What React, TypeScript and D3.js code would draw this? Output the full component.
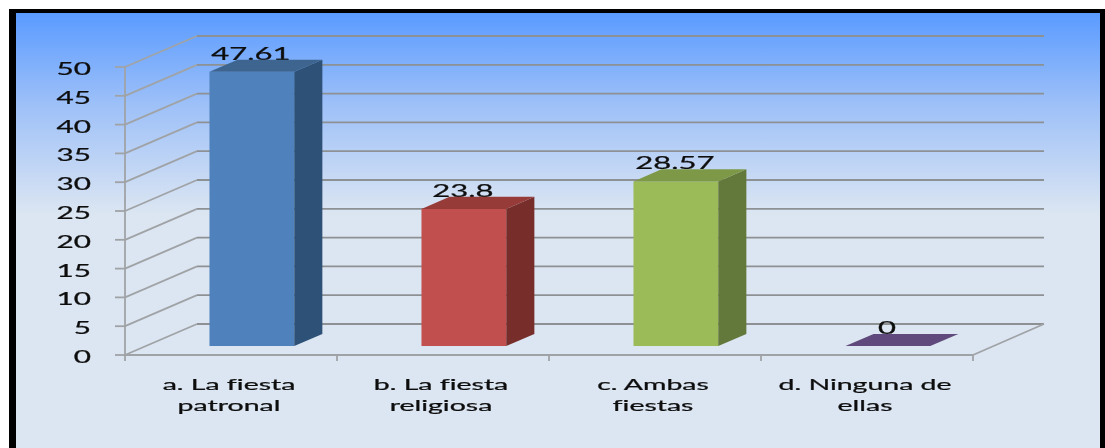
import React from "react";
import * as d3 from "d3";

const categories = ["a. La fiesta|patronal", "b. La fiesta|religiosa", "c. Ambas|fiestas", "d. Ninguna de|ellas"];
const values = [47.61, 23.8, 28.57, 0];
const valueLabels = ["47.61", "23.8", "28.57", "0"];
const yTicks = [0, 5, 10, 15, 20, 25, 30, 35, 40, 45, 50];
const frontColors = ["#4f81bd", "#c0504d", "#9bbb59", "#604a7b"];
const topColors = ["#3d6590", "#963a38", "#7d9846", "#604a7b"];
const sideColors = ["#2f5177", "#772e2c", "#64783a", "#4a3a60"];

const W = 1105, H = 448;
const FONT = "Lato, Carlito, sans-serif";
const x0 = 125, x1 = 973, y0 = 355, y50 = 67;
const wallDx = 72, wallDy = -31;
const baseFrac = 0.29, depthFrac = 0.39;
const GRID = "#8e9194";
const WALL = "#a0a3a6";

const y = d3.scaleLinear().domain([0, 50]).range([y0, y50]);
const band = d3.scaleBand<string>().domain(categories).range([x0, x1]).paddingInner(0.6).paddingOuter(0.3);
const line = d3.line();

function Stretched({ x, y: ty, sx, size, anchor, children }: any) {
  return (
    <text
      transform={`translate(${x},${ty}) scale(${sx},1)`}
      fontFamily={FONT}
      fontSize={size}
      fill="#111"
      stroke="#111"
      strokeWidth={0.25}
      textAnchor={anchor}
      style={{ fontVariantLigatures: "none" }}
    >
      {children}
    </text>
  );
}

export default function App() {
  const step = band.step();
  return (
    <svg width={W} height={H} style={{ position: "fixed", left: 0, top: 0, display: "block" }}>
      <defs>
        <linearGradient id="bg" gradientUnits="userSpaceOnUse" x1="0" y1="13" x2="0" y2="215">
          <stop offset="0" stopColor="#5a9bff" />
          <stop offset="0.45" stopColor="#9dc0f8" />
          <stop offset="1" stopColor="#dce6f2" />
        </linearGradient>
        <filter id="soft" x="-5%" y="-5%" width="110%" height="110%">
          <feGaussianBlur stdDeviation="0.55" />
        </filter>
      </defs>
      <rect width={W} height={H} fill="#fff" />
      <rect x={9} y={9} width={W - 9} height={H - 9} fill="#000" />
      <rect x={16} y={13} width={1084} height={H - 13} fill="url(#bg)" />
      <g filter="url(#soft)">
        {yTicks.map((t) => (
          <g key={t}>
            <path d={line([[x0 - 10, y(t)], [x0, y(t)]]) as string} fill="none" stroke={WALL} strokeWidth={1.8} />
            <path d={line([[x0, y(t)], [x0 + wallDx, y(t) + wallDy]]) as string} fill="none" stroke={WALL} strokeWidth={1.8} />
            <path d={line([[x0 + wallDx, y(t) + wallDy], [x1 + wallDx - 1, y(t) + wallDy]]) as string} fill="none" stroke={GRID} strokeWidth={1.8} />
            <Stretched x={91} y={y(t) + 8} sx={1.8} size={16.5} anchor="end">{t}</Stretched>
          </g>
        ))}
        <line x1={x0} x2={x0} y1={y50} y2={y0 + 6} stroke={WALL} strokeWidth={1.8} />
        <line x1={x0} x2={x1} y1={y0} y2={y0} stroke={WALL} strokeWidth={1.8} />
        <line x1={x1} x2={x1 + wallDx - 1} y1={y0} y2={y0 + wallDy} stroke={WALL} strokeWidth={1.8} />
        {categories.map((c, i) => (
          <line key={c} x1={x0 + step * (i + 1)} x2={x0 + step * (i + 1)} y1={y0} y2={y0 + 6} stroke={WALL} strokeWidth={1.8} />
        ))}
        {categories.map((c, i) => {
          const bw = band.bandwidth();
          const fx = band(c)! + wallDx * baseFrac;
          const base = y0 + wallDy * baseFrac;
          const h = y0 - y(values[i]);
          const top = base - h;
          const dx = wallDx * depthFrac;
          const dy = wallDy * depthFrac;
          const cx = fx + bw / 2;
          const [l1, l2] = c.split("|");
          return (
            <g key={c}>
              <Stretched x={cx - 1} y={top + dy} sx={1.88} size={16.5} anchor="middle">{valueLabels[i]}</Stretched>
              {h > 0 && <rect x={fx} y={top} width={bw} height={h} fill={frontColors[i]} />}
              {h > 0 && (
                <path d={(line([[fx + bw, top], [fx + bw + dx, top + dy], [fx + bw + dx, base + dy], [fx + bw, base]]) as string) + "Z"} fill={sideColors[i]} />
              )}
              <path d={(line([[fx, top], [fx + dx, top + dy], [fx + bw + dx, top + dy], [fx + bw, top]]) as string) + "Z"} fill={topColors[i]} />
              <Stretched x={x0 + step * (i + 0.5) - 2} y={390} sx={1.78} size={16} anchor="middle">{l1}</Stretched>
              <Stretched x={x0 + step * (i + 0.5) - 2} y={411} sx={1.78} size={16} anchor="middle">{l2}</Stretched>
            </g>
          );
        })}
      </g>
    </svg>
  );
}
